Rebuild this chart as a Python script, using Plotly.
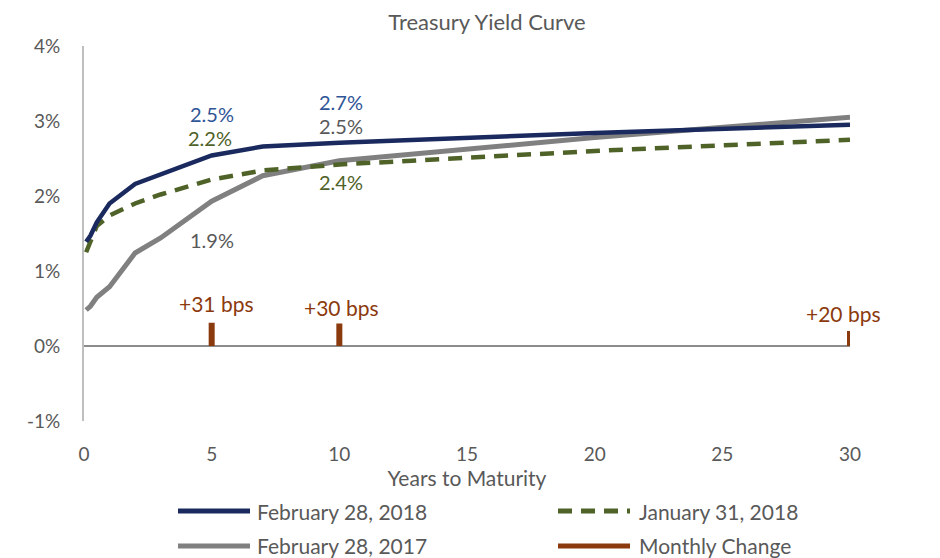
import plotly.graph_objects as go

# ---------------- data ----------------
maturities = [1/12, 0.25, 0.5, 1, 2, 3, 5, 7, 10, 20, 30]
feb_2018 = [1.39, 1.47, 1.65, 1.90, 2.16, 2.29, 2.54, 2.66, 2.71, 2.84, 2.95]
jan_2018 = [1.25, 1.40, 1.60, 1.74, 1.90, 2.02, 2.22, 2.34, 2.42, 2.60, 2.75]
feb_2017 = [0.48, 0.53, 0.65, 0.79, 1.24, 1.44, 1.93, 2.27, 2.47, 2.78, 3.05]

change_maturities = [5, 10, 30]
change_values = [0.31, 0.30, 0.20]
change_labels = ["+31 bps", "+30 bps", "+20 bps"]

y_ticks = [-1, 0, 1, 2, 3, 4]
y_tick_labels = ["-1%", "0%", "1%", "2%", "3%", "4%"]
x_ticks = [0, 5, 10, 15, 20, 25, 30]

series_names = ["February 28, 2018", "January 31, 2018", "February 28, 2017", "Monthly Change"]

value_labels_5y = ["2.5%", "2.2%", "1.9%"]
value_labels_10y = ["2.7%", "2.5%", "2.4%"]
value_labels_30y = ["3.1%", "2.9%", "2.7%"]

# ---------------- styles ----------------
NAVY = "#1B2A5E"
GREEN = "#4F6228"
GRAY = "#808080"
BROWN = "#8B3A0E"
NAVY_TXT = "#2F5597"
GRAY_TXT = "#595959"
FONT = "Lato"

fig = go.Figure()

fig.add_trace(go.Scatter(x=maturities, y=feb_2017, mode="lines", name=series_names[2],
                         line=dict(color=GRAY, width=5)))
fig.add_trace(go.Scatter(x=maturities, y=jan_2018, mode="lines", name=series_names[1],
                         line=dict(color=GREEN, width=4.5, dash="14px,9px")))
fig.add_trace(go.Scatter(x=maturities, y=feb_2018, mode="lines", name=series_names[0],
                         line=dict(color=NAVY, width=4.5)))

cx, cy = [], []
for m, v in zip(change_maturities, change_values):
    cx += [m, m, None]
    cy += [0, v, None]
fig.add_trace(go.Scatter(x=cx, y=cy, mode="lines", name=series_names[3],
                         line=dict(color=BROWN, width=6)))

annotations = []

def lab(x, y, text, color, size=20):
    annotations.append(dict(x=x, y=y, xref="x", yref="y", text=text, showarrow=False,
                            font=dict(family=FONT, size=size, color=color),
                            xanchor="center", yanchor="middle"))

lab(5.0, 3.09, value_labels_5y[0], NAVY_TXT)
lab(4.95, 2.77, value_labels_5y[1], GREEN)
lab(5.0, 1.41, value_labels_5y[2], GRAY_TXT)
lab(10.07, 3.25, value_labels_10y[0], NAVY_TXT)
lab(10.07, 2.93, value_labels_10y[1], GRAY_TXT)
lab(10.07, 2.19, value_labels_10y[2], GREEN)
lab(31.6, 3.20, value_labels_30y[0], GRAY_TXT)
lab(31.6, 2.92, value_labels_30y[1], NAVY_TXT)
lab(31.6, 2.63, value_labels_30y[2], GREEN)
bps_pos = [(5.17, 0.57), (10.1, 0.52), (29.73, 0.43)]
for (bx, by), t in zip(bps_pos, change_labels):
    lab(bx, by, t, BROWN, size=21)

# manual legend (paper coords relative to plot area)
shapes = []
legend_items = [
    (series_names[0], NAVY, "solid", 0.1227, 0.2167, 0.2232, -0.240),
    (series_names[1], GREEN, "dash", 0.6188, 0.7128, 0.7219, -0.240),
    (series_names[2], GRAY, "solid", 0.1227, 0.2167, 0.2232, -0.333),
    (series_names[3], BROWN, "solid", 0.6188, 0.7128, 0.7219, -0.333),
]
for name, color, dash, x0, x1, xt, yy in legend_items:
    shapes.append(dict(type="line", xref="paper", yref="paper", x0=x0, x1=x1, y0=yy, y1=yy,
                       line=dict(color=color, width=5, dash="14px,9px" if dash == "dash" else "solid")))
    annotations.append(dict(x=xt, y=yy, xref="paper", yref="paper", text=name, showarrow=False,
                            xanchor="left", yanchor="middle",
                            font=dict(family=FONT, size=21, color=GRAY_TXT)))

# page body has an 8px margin; shift the figure up/left to compensate
fig.update_layout(
    width=940, height=558,
    margin=dict(l=76, r=98, t=38, b=145),
    paper_bgcolor="white", plot_bgcolor="white",
    showlegend=False,
    title=dict(text="Treasury Yield Curve", x=(487 - 8) / 940, xanchor="center",
               y=1 - 14 / 558, yanchor="middle",
               font=dict(family=FONT, size=22, color=GRAY_TXT)),
    font=dict(family=FONT, color=GRAY_TXT),
    annotations=annotations,
    shapes=shapes,
)

fig.update_xaxes(range=[0, 30], tickvals=x_ticks, showgrid=False, zeroline=False, showline=False,
                 ticks="", ticklabelstandoff=20,
                 tickfont=dict(family=FONT, size=19, color=GRAY_TXT),
                 title=dict(text="Years to Maturity", standoff=0,
                            font=dict(family=FONT, size=21, color=GRAY_TXT)))
fig.update_yaxes(range=[-1, 4], tickvals=y_ticks, ticktext=y_tick_labels, showgrid=False,
                 zeroline=True, zerolinecolor="#8C8C8C", zerolinewidth=1.5,
                 showline=True, linecolor="#BFBFBF", linewidth=2, ticks="",
                 ticklabelstandoff=18,
                 tickfont=dict(family=FONT, size=19, color=GRAY_TXT))

fig.write_html("out.html")
